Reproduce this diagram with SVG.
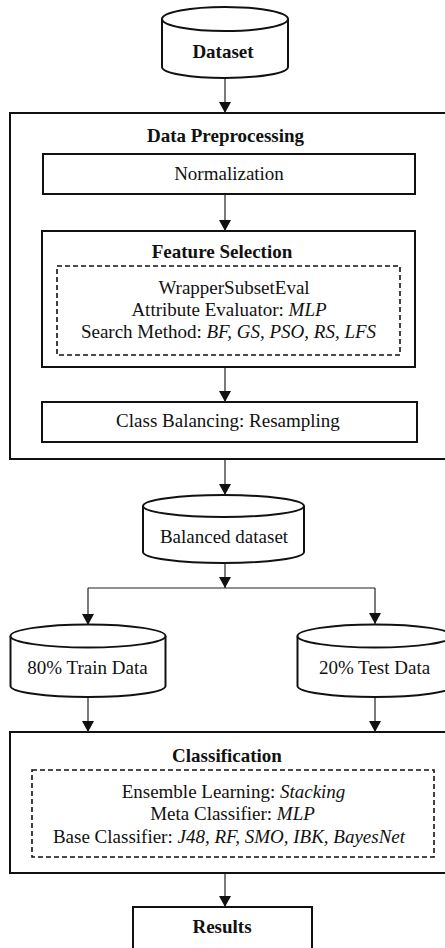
<svg xmlns="http://www.w3.org/2000/svg" width="445" height="948" viewBox="0 0 445 948">
<style>
text{font-family:"Liberation Serif","Times New Roman",serif;font-size:19px;fill:#111;text-anchor:middle}
.b{font-weight:bold}
.box{fill:#fff;stroke:#111;stroke-width:2}
.dash{fill:none;stroke:#111;stroke-width:1.6;stroke-dasharray:5,3}
.cyl{fill:#fff;stroke:#111;stroke-width:2}
.con{fill:none;stroke:#222;stroke-width:1.2}
</style>
<defs>
<marker id="ah" markerUnits="userSpaceOnUse" markerWidth="12" markerHeight="13" refX="11" refY="6" orient="auto">
<path d="M0,0 L11,6 L0,12 Z" fill="#111"/>
</marker>
</defs>

<g id="dataset">
<path class="cyl" d="M162,19 L162,67 A63,11 0 0 0 288,67 L288,19"/>
<ellipse class="cyl" cx="225" cy="19" rx="63" ry="12"/>
<text class="b" x="223" y="58">Dataset</text>
</g>

<g id="preprocessing">
<rect class="box" x="10" y="113" width="445" height="346"/>
<text class="b" x="225.5" y="142">Data Preprocessing</text>
</g>

<g id="normalization">
<rect class="box" x="43" y="154" width="372" height="40"/>
<text x="229" y="180">Normalization</text>
</g>

<g id="feature-selection">
<rect class="box" x="42" y="231" width="373" height="136"/>
<text class="b" x="222" y="258">Feature Selection</text>
<rect class="dash" x="57" y="266" width="343" height="89"/>
<text x="234" y="294">WrapperSubsetEval</text>
<text x="229" y="316">Attribute Evaluator: <tspan font-style="italic">MLP</tspan></text>
<text x="228.5" y="338">Search Method: <tspan font-style="italic">BF, GS, PSO, RS, LFS</tspan></text>
</g>

<g id="class-balancing">
<rect class="box" x="42" y="402" width="375" height="40"/>
<text x="228" y="427">Class Balancing: Resampling</text>
</g>

<g id="balanced">
<path class="cyl" d="M143,506 L143,552 A80.5,11 0 0 0 304,552 L304,506"/>
<ellipse class="cyl" cx="223.5" cy="506" rx="80.5" ry="11"/>
<text x="224" y="543">Balanced dataset</text>
</g>

<g id="train">
<path class="cyl" d="M10.5,636 L10.5,686 A77.5,11 0 0 0 165.5,686 L165.5,636"/>
<ellipse class="cyl" cx="88" cy="636" rx="77.5" ry="11.5"/>
<text x="87.5" y="674">80% Train Data</text>
</g>

<g id="test">
<path class="cyl" d="M297.5,636 L297.5,686 A77.5,11 0 0 0 452.5,686 L452.5,636"/>
<ellipse class="cyl" cx="375" cy="636" rx="77.5" ry="11.5"/>
<text x="374.5" y="674">20% Test Data</text>
</g>

<g id="classification">
<rect class="box" x="10" y="732" width="445" height="141"/>
<text class="b" x="227" y="762">Classification</text>
<rect class="dash" x="32" y="770" width="402" height="87"/>
<text x="233.5" y="798">Ensemble Learning: <tspan font-style="italic">Stacking</tspan></text>
<text x="232.5" y="820">Meta Classifier: <tspan font-style="italic">MLP</tspan></text>
<text x="229" y="843">Base Classifier: <tspan font-style="italic">J48, RF, SMO, IBK, BayesNet</tspan></text>
</g>

<g id="results">
<rect class="box" x="133" y="907" width="179" height="50"/>
<text class="b" x="222" y="933">Results</text>
</g>

<g id="connectors">
<path class="con" d="M225,79 L225,113" marker-end="url(#ah)"/>
<path class="con" d="M225,195 L225,231" marker-end="url(#ah)"/>
<path class="con" d="M225,368 L225,402" marker-end="url(#ah)"/>
<path class="con" d="M225,460 L225,495" marker-end="url(#ah)"/>
<path class="con" d="M225,563 L225,588" marker-end="url(#ah)"/>
<path class="con" d="M88,588 L375,588"/>
<path class="con" d="M88,588 L88,625" marker-end="url(#ah)"/>
<path class="con" d="M375,588 L375,624" marker-end="url(#ah)"/>
<path class="con" d="M88,698 L88,732" marker-end="url(#ah)"/>
<path class="con" d="M375,698 L375,732" marker-end="url(#ah)"/>
<path class="con" d="M225,874 L225,907" marker-end="url(#ah)"/>
</g>
</svg>
